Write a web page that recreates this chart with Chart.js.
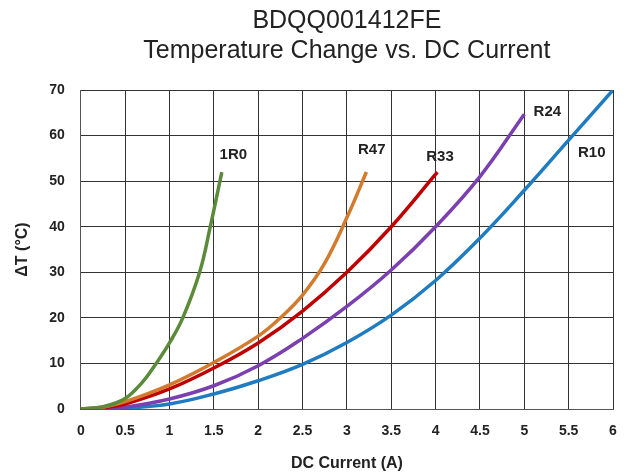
<!DOCTYPE html>
<html>
<head>
<meta charset="utf-8">
<script src="https://cdn.jsdelivr.net/npm/chart.js@4/dist/chart.umd.min.js"></script>
<style>
  html, body { margin: 0; padding: 0; background: #fff; }
  #wrap { width: 628px; height: 476px; }
</style>
</head>
<body>
<div id="wrap"><canvas id="chart"></canvas></div>
<script>
// values
const seriesNames = ['1R0', 'R47', 'R33', 'R24', 'R10'];
const seriesColors = ['#5b8a3a', '#d27a2e', '#c00000', '#7b3fb0', '#1f7cc0'];

const x1R0 = [0, 0.25, 0.5, 0.7, 0.85, 1.0, 1.15, 1.34, 1.46, 1.59];
const y1R0 = [0, 0.5, 2.3, 6, 10, 14.5, 20, 30, 40, 52];

const xR47 = [0, 0.25, 0.5, 1, 1.5, 2, 2.25, 2.5, 2.75, 3, 3.22];
const yR47 = [0, 0.4, 1.6, 5.3, 10.2, 16, 20, 25, 32, 42, 52];

const xR33 = [0, 0.25, 0.5, 1, 1.5, 2, 2.5, 3, 3.5, 4.02];
const yR33 = [0, 0.3, 1.1, 4.4, 9.0, 14.5, 21.5, 30, 40, 52];

const xR24 = [0, 0.25, 0.5, 1, 1.5, 2, 2.5, 3, 3.5, 4, 4.5, 5.0];
const yR24 = [0, 0.1, 0.4, 2.2, 5.1, 9.5, 15.5, 22.5, 30.5, 40, 51, 64.7];

const xR10 = [0, 0.5, 1, 1.5, 2, 2.5, 3, 3.5, 4, 4.5, 5, 5.5, 6];
const yR10 = [0, 0.2, 1.1, 3.3, 6.2, 9.8, 14.6, 20.6, 28.2, 37.5, 48, 59, 70];

// where each curve name sits (data units)
const labelX = [1.72, 3.28, 4.05, 5.26, 5.76];
const labelY = [55.8, 56.9, 55.4, 65.3, 56.2];

const seriesX = [x1R0, xR47, xR33, xR24, xR10];
const seriesY = [y1R0, yR47, yR33, yR24, yR10];

const FONT = 'Arial, "Liberation Sans", sans-serif';

const curveLabels = {
    id: 'curveLabels',
    afterDatasetsDraw(chart) {
        const { ctx, scales } = chart;
        ctx.save();
        ctx.font = 'bold 15px ' + FONT;
        ctx.fillStyle = '#222';
        ctx.textAlign = 'center';
        ctx.textBaseline = 'middle';
        seriesNames.forEach((name, i) => {
            ctx.fillText(name, scales.x.getPixelForValue(labelX[i]), scales.y.getPixelForValue(labelY[i]));
        });
        ctx.restore();
    }
};

const datasets = seriesNames.map((name, i) => ({
    label: name,
    data: seriesX[i].map((x, j) => ({ x: x, y: seriesY[i][j] })),
    showLine: true,
    borderColor: seriesColors[i],
    backgroundColor: seriesColors[i],
    borderWidth: 3.5,
    pointRadius: 0,
    tension: 0.4,
    fill: false
}));

new Chart(document.getElementById('chart'), {
    type: 'scatter',
    data: { datasets },
    options: {
        responsive: true,
        maintainAspectRatio: false,
        animation: false,
        layout: { padding: { top: 6, right: 15, bottom: 3, left: 13 } },
        plugins: {
            legend: { display: false },
            tooltip: { enabled: false },
            title: {
                display: true,
                fullSize: false,
                text: ['BDQQ001412FE', 'Temperature Change vs. DC Current'],
                color: '#222',
                font: { family: FONT, size: 25, weight: 'normal', lineHeight: 1.2 },
                padding: { top: 0, bottom: 24 }
            }
        },
        scales: {
            x: {
                type: 'linear',
                min: 0,
                max: 6,
                // keep the tick padding from pushing the plot's right edge in
                afterFit: scale => { scale.paddingRight = 0; },
                ticks: {
                    stepSize: 0.5,
                    color: '#222',
                    padding: 14,
                    font: { family: FONT, size: 14, weight: 'bold' },
                    callback: v => String(v)
                },
                grid: { color: '#333', lineWidth: 1, drawTicks: false },
                border: { color: '#555' },
                title: {
                    display: true,
                    text: 'DC Current (A)',
                    color: '#222',
                    font: { family: FONT, size: 16, weight: 'bold' },
                    padding: { top: 0, bottom: 0 }
                }
            },
            y: {
                min: 0,
                max: 70,
                ticks: {
                    stepSize: 10,
                    color: '#222',
                    padding: 16,
                    font: { family: FONT, size: 14, weight: 'bold' }
                },
                grid: { color: '#333', lineWidth: 1, drawTicks: false },
                border: { color: '#555' },
                title: {
                    display: true,
                    text: 'ΔT (°C)',
                    color: '#222',
                    font: { family: FONT, size: 16, weight: 'bold' },
                    padding: { top: 0, bottom: 1 }
                }
            }
        }
    },
    plugins: [curveLabels]
});
</script>
</body>
</html>
